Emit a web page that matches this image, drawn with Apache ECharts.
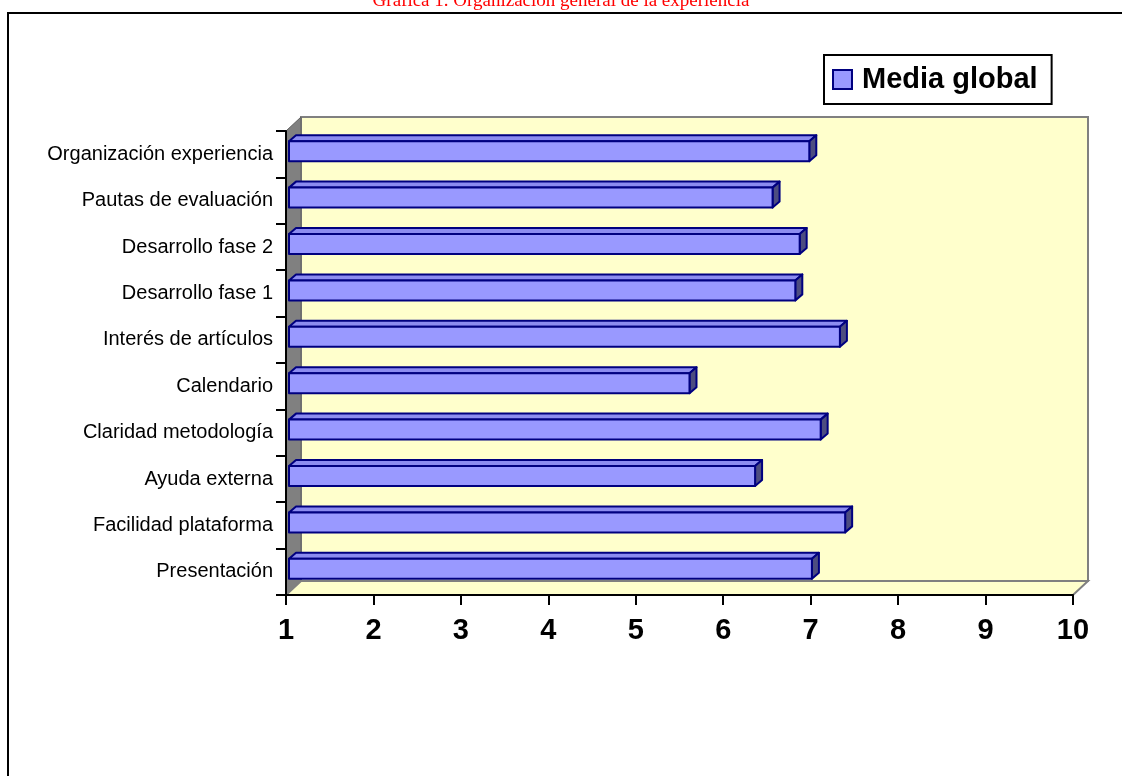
<!DOCTYPE html>
<html>
<head>
<meta charset="utf-8">
<script src="https://cdn.jsdelivr.net/npm/echarts@6/dist/echarts.min.js"></script>
<style>
html,body{margin:0;padding:0;background:#fff;}
#chart{width:1122px;height:776px;}
</style>
</head>
<body>
<div id="chart"></div>
<script>
const titleText = 'Gráfica 1. Organización general de la experiencia';
const seriesName = 'Media global';
const categories = ['Organización experiencia','Pautas de evaluación','Desarrollo fase 2','Desarrollo fase 1','Interés de artículos','Calendario','Claridad metodología','Ayuda externa','Facilidad plataforma','Presentación'];
const values = [6.95, 6.53, 6.84, 6.79, 7.30, 5.58, 7.08, 6.33, 7.36, 6.98];
const xTicks = [1,2,3,4,5,6,7,8,9,10];

const DX = 15, DY = -14;      // wall depth
const BX = 3, BY = -3;        // bar front offset into depth
const BDX = 7, BDY = -6;      // bar depth

const chart = echarts.init(document.getElementById('chart'));

function wallsRender(params, api) {
  const c = params.coordSys;
  const x0 = c.x, y0 = c.y, x1 = c.x + c.width, y1 = c.y + c.height;
  return {
    type: 'group',
    children: [
      { type: 'rect', shape: { x: x0 + DX, y: y0 + DY, width: c.width, height: c.height },
        style: { fill: '#FFFFCC', stroke: '#808080', lineWidth: 2 } },
      { type: 'polygon', shape: { points: [[x0, y0], [x0 + DX, y0 + DY], [x0 + DX, y1 + DY], [x0, y1]] },
        style: { fill: '#808080', stroke: '#606060', lineWidth: 1 } },
      { type: 'polygon', shape: { points: [[x0, y1], [x0 + DX, y1 + DY], [x1 + DX, y1 + DY], [x1, y1]] },
        style: { fill: '#FFFFCC', stroke: '#808080', lineWidth: 2 } }
    ]
  };
}

function barRender(params, api) {
  const idx = api.value(1);
  const s = api.coord([xTicks[0], idx]);
  const e = api.coord([api.value(0), idx]);
  const band = api.size([0, 1])[1];
  const h = band * 0.43;
  const xa = s[0] + BX, xb = e[0] + BX;
  const yc = s[1] + BY;
  const yt = yc - h / 2, yb = yc + h / 2;
  const border = { stroke: '#000080', lineWidth: 2, lineJoin: 'round' };
  return {
    type: 'group',
    children: [
      { type: 'polygon', shape: { points: [[xa, yt], [xa + BDX, yt + BDY], [xb + BDX, yt + BDY], [xb, yt]] },
        style: Object.assign({ fill: '#8C8CF0' }, border) },
      { type: 'polygon', shape: { points: [[xb, yt], [xb + BDX, yt + BDY], [xb + BDX, yb + BDY], [xb, yb]] },
        style: Object.assign({ fill: '#4D4D80' }, border) },
      { type: 'rect', shape: { x: xa, y: yt, width: xb - xa, height: h },
        style: Object.assign({ fill: '#9999FF' }, border) }
    ]
  };
}

const option = {
  animation: false,
  backgroundColor: '#ffffff',
  title: {
    text: titleText,
    left: 'center',
    top: -13,
    textStyle: { fontFamily: 'Liberation Serif', fontWeight: 'normal', fontSize: 19, color: '#FF0000' }
  },
  graphic: [
    { type: 'rect', shape: { x: 8, y: 13, width: 1140, height: 800 },
      style: { fill: null, stroke: '#000', lineWidth: 2 }, z: 100 }
  ],
  legend: {
    left: 824, top: 55,
    padding: [10, 14, 10, 8],
    itemGap: 0,
    itemWidth: 19, itemHeight: 19,
    borderColor: '#000', borderWidth: 2,
    backgroundColor: '#fff',
    data: [{ name: seriesName, icon: 'rect', itemStyle: { color: '#9999FF', borderColor: '#000080', borderWidth: 2 } }],
    textStyle: { fontFamily: 'Liberation Sans', fontWeight: 'bold', fontSize: 29, color: '#000', padding: [0, 0, 0, 5] }
  },
  grid: { left: 286, right: 49, top: 131, bottom: 181, containLabel: false },
  xAxis: {
    type: 'value', min: 1, max: 10, interval: 1,
    z: 10,
    axisLine: { show: true, lineStyle: { color: '#000', width: 2 } },
    axisTick: { show: true, length: 10, lineStyle: { color: '#000', width: 2 } },
    axisLabel: { margin: 21, fontFamily: 'Liberation Sans', fontWeight: 'bold', fontSize: 29, color: '#000' },
    splitLine: { show: false }
  },
  yAxis: {
    type: 'category', data: categories, inverse: true,
    z: 10,
    axisLine: { show: true, lineStyle: { color: '#000', width: 2 } },
    axisTick: { show: true, length: 10, alignWithLabel: false, lineStyle: { color: '#000', width: 2 } },
    axisLabel: { margin: 13, fontFamily: 'Liberation Sans', fontSize: 20, color: '#000' }
  },
  series: [
    { type: 'custom', name: '__walls', renderItem: wallsRender, data: [[1, 0]], z: 1, silent: true },
    { type: 'custom', name: seriesName, renderItem: barRender,
      itemStyle: { color: '#9999FF' },
      data: values.map((v, i) => [v, i]), z: 2 }
  ]
};
chart.setOption(option);
</script>
</body>
</html>
